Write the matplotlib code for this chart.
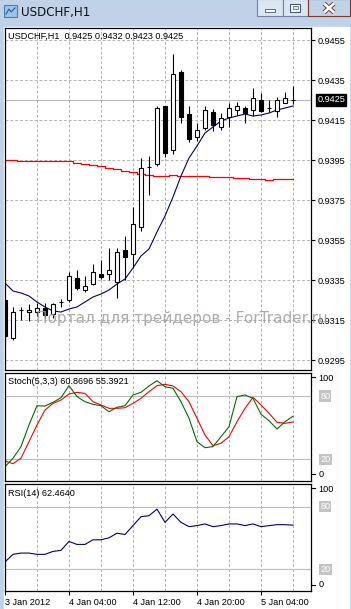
import matplotlib.pyplot as plt
import numpy as np
from matplotlib.patches import Rectangle
from matplotlib.colors import LinearSegmentedColormap
from matplotlib.transforms import blended_transform_factory

W, H = 351, 609

# H1 candles, 3 Jan 2012 20:00 .. 5 Jan 2012 08:00
opens = [0.9325, 0.9306, 0.9320, 0.9319, 0.9319, 0.9321, 0.9318, 0.93242, 0.9325, 0.9336,
         0.9330, 0.9333, 0.9338, 0.9338, 0.9334, 0.9350, 0.9348, 0.93615, 0.93915, 0.9393,
         0.9422, 0.9400, 0.9439, 0.9418, 0.94065, 0.9411, 0.9419, 0.94115, 0.94165, 0.9420,
         0.9421, 0.9420, 0.9425, 0.9421, 0.94195, 0.94235, 0.9425]
highs = [0.9326, 0.93215, 0.93215, 0.9323, 0.93235, 0.93235, 0.93235, 0.93255, 0.93392, 0.9340,
         0.9337, 0.9343, 0.9345, 0.9351, 0.9351, 0.9357, 0.93715, 0.9396, 0.9397, 0.9422,
         0.9422, 0.9448, 0.9440, 0.9422, 0.94135, 0.9422, 0.94205, 0.94185, 0.94235, 0.9424,
         0.9422, 0.9431, 0.94285, 0.9425, 0.94265, 0.9429, 0.9432]
lows = [0.93025, 0.9305, 0.9315, 0.93145, 0.9317, 0.9316, 0.9316, 0.93215, 0.93241, 0.9330,
        0.9329, 0.93325, 0.93355, 0.9335, 0.9326, 0.9335, 0.9341, 0.93595, 0.93775, 0.9392,
        0.93965, 0.9398, 0.94135, 0.9404, 0.94045, 0.9410, 0.94095, 0.9410, 0.94115, 0.94175,
        0.94135, 0.9417, 0.9419, 0.9419, 0.94165, 0.94235, 0.9423]
closes = [0.9307, 0.9319, 0.9320, 0.9320, 0.9321, 0.93175, 0.9323, 0.93242, 0.9337, 0.9331,
          0.9332, 0.9339, 0.93365, 0.9340, 0.9349, 0.93465, 0.9363, 0.9391, 0.93915, 0.9421,
          0.93985, 0.9438, 0.94165, 0.94055, 0.9410, 0.9420, 0.94125, 0.9416, 0.9421, 0.9422,
          0.94185, 0.9426, 0.94195, 0.9421, 0.9425, 0.9426, 0.9425]

ma_fast = [0.93335, 0.93295, 0.93285, 0.9327, 0.9324, 0.93215, 0.93195, 0.9319, 0.93205, 0.93215,
           0.9324, 0.93265, 0.9328, 0.9330, 0.9333, 0.93355, 0.9341, 0.9347, 0.93505, 0.9359,
           0.9367, 0.93765, 0.9387, 0.9396, 0.9402, 0.94085, 0.94115, 0.94145, 0.9416, 0.9417,
           0.9418, 0.9417, 0.94175, 0.94185, 0.9420, 0.9421, 0.9422]
ma_slow = [0.9395, 0.93948, 0.93945, 0.93945, 0.93945, 0.93945, 0.93945, 0.93945, 0.93943, 0.93935,
           0.9393, 0.93925, 0.93918, 0.9391, 0.93903, 0.93895, 0.93888, 0.9388, 0.93873, 0.9387,
           0.9387, 0.93873, 0.9387, 0.9387, 0.9387, 0.93868, 0.93865, 0.93865, 0.93863, 0.9386,
           0.93858, 0.93855, 0.93853, 0.9385, 0.93853, 0.93853, 0.93853]

stoch_main = [13.0, 20.9, 32.0, 52.5, 70.8, 70.5, 74.0, 78.4, 89.8, 79.4,
              74.6, 72.1, 70.8, 65.1, 69.3, 70.8, 81.0, 83.5, 89.5, 94.5,
              88.8, 87.3, 74.6, 58.9, 36.7, 31.0, 32.0, 41.4, 50.9, 79.4,
              81.0, 77.8, 62.7, 56.6, 48.7, 55.6, 60.87]
stoch_signal = [18.4, 15.8, 21.0, 36.7, 52.5, 66.7, 73.0, 76.2, 81.9, 83.5,
                82.5, 74.6, 71.5, 68.3, 68.3, 68.9, 73.0, 77.8, 84.1, 89.8,
                91.1, 89.5, 84.1, 74.6, 58.9, 43.0, 32.9, 35.2, 41.4, 55.6,
                68.3, 78.8, 71.5, 63.6, 55.1, 54.1, 55.39]
rsi = [27.2, 34.5, 35.7, 35.7, 34.5, 34.5, 37.3, 38.3, 46.8, 44.0,
       44.0, 48.4, 48.4, 50.3, 54.7, 53.5, 62.0, 70.5, 71.5, 77.8,
       65.1, 73.1, 65.1, 61.0, 62.0, 63.6, 61.0, 62.0, 63.6, 63.6,
       62.0, 63.6, 61.0, 62.0, 62.9, 62.9, 62.46]

price_levels = [0.9295, 0.9315, 0.9335, 0.9355, 0.9375, 0.9395, 0.9415, 0.9435, 0.9455]
time_pos = [0, 8, 16, 24, 32]
time_labels = ['3 Jan 2012', '4 Jan 04:00', '4 Jan 12:00', '4 Jan 20:00', '5 Jan 04:00']
grid_pos = list(range(4, 37, 4))
last_price = 0.9425

plt.rcParams['font.family'] = ['Liberation Sans', 'DejaVu Sans']
FS = 6.6
GRID = '#b4b4b4'

fig = plt.figure(figsize=(W / 100, H / 100), dpi=100)


def px_axes(x0, y0, x1, y1):
    return fig.add_axes([x0 / W, 1 - y1 / H, (x1 - x0) / W, (y1 - y0) / H])


def ftext(x, y, s, **kw):
    return fig.text(x / W, 1 - y / H, s, **kw)


# window chrome
bg = fig.add_axes([0, 0, 1, 1])
bg.add_patch(Rectangle((0, 0), W, H, color='#bfd2e8'))
cm = LinearSegmentedColormap.from_list('title', ['#dce9f7', '#c3d7ee'])
bg.imshow(np.linspace(0, 1, 30).reshape(-1, 1), extent=(0, W, 27, 0), cmap=cm, aspect='auto')
bg.add_patch(Rectangle((4, 27), W - 6, H - 27, color='white'))
# icon
bg.add_patch(Rectangle((4, 5), 13, 12, facecolor='#9cc3e8', edgecolor='#4c7fb5', lw=0.8))
bg.plot([6, 9, 11, 15], [14, 9, 12, 8], color='#2d5c96', lw=0.8)
# buttons
bg.add_patch(Rectangle((257, -1), 26, 17, facecolor='#dbe6f3', edgecolor='#6f84a3', lw=0.8))
bg.add_patch(Rectangle((265, 9), 10, 2.5, facecolor='white', edgecolor='#4a5a70', lw=0.6))
bg.add_patch(Rectangle((283, -1), 25, 17, facecolor='#dbe6f3', edgecolor='#6f84a3', lw=0.8))
bg.add_patch(Rectangle((290, 3.5), 10, 8, facecolor='white', edgecolor='#4a5a70', lw=0.8))
bg.add_patch(Rectangle((292.5, 6), 5, 3, facecolor='#dbe6f3', edgecolor='#4a5a70', lw=0.5))
cm_red = LinearSegmentedColormap.from_list('close', ['#e3a493', '#c24533'])
bg.imshow(np.linspace(0, 1, 20).reshape(-1, 1), extent=(308, 350, 16, -1), cmap=cm_red, aspect='auto')
bg.add_patch(Rectangle((308, -1), 42, 17, facecolor='none', edgecolor='#7a3a30', lw=0.8))
bg.plot([324, 334], [3.5, 12.5], color='#5a2a22', lw=3.2, solid_capstyle='butt')
bg.plot([324, 334], [12.5, 3.5], color='#5a2a22', lw=3.2, solid_capstyle='butt')
bg.plot([324, 334], [3.5, 12.5], color='white', lw=2.0, solid_capstyle='butt')
bg.plot([324, 334], [12.5, 3.5], color='white', lw=2.0, solid_capstyle='butt')
bg.set_xlim(0, W)
bg.set_ylim(H, 0)
bg.axis('off')

ftext(21, 12.5, 'USDCHF,H1', fontsize=8.6, va='center', family=['DejaVu Sans'], color='#111111')

idx = np.arange(len(opens))
XL = (-0.06, 38.25)

# main price panel
ax = px_axes(4.5, 28, 311, 370)
for p in price_levels:
    ax.axhline(p, color=GRID, lw=0.7, ls=(0, (3, 2)), zorder=0)
for g in grid_pos:
    ax.axvline(g, color=GRID, lw=0.7, ls=(0, (3, 2)), zorder=0)
ax.axhline(last_price, color='#b8b8b8', lw=0.8, zorder=0.5)
ax.plot(idx, ma_slow, color='red', lw=0.9, drawstyle='steps-mid', zorder=1)
ax.plot(idx, ma_fast, color='#000080', lw=0.8, zorder=1)
ax.vlines(idx, lows, highs, color='black', lw=0.8, zorder=2)
o = np.array(opens)
c = np.array(closes)
body_col = ['black' if cc < oo else 'white' for oo, cc in zip(o, c)]
ax.bar(idx, c - o, bottom=o, width=0.58, color=body_col, edgecolor='black', lw=0.8, zorder=3)
ax.set_xlim(*XL)
ax.set_ylim(0.929, 0.9461)
ax.yaxis.tick_right()
ax.set_yticks(price_levels)
ax.set_yticklabels(['%.4f' % p for p in price_levels])
ax.tick_params(axis='y', length=3, width=0.8, pad=2, labelsize=FS)
ax.set_xticks([])
for s in ax.spines.values():
    s.set_linewidth(0.9)
tr = blended_transform_factory(ax.transAxes, ax.transData)
ax.text(1.02, last_price, '%.4f' % last_price, transform=tr, fontsize=FS, color='white',
        va='center', ha='left', clip_on=False,
        bbox=dict(boxstyle='square,pad=0.15', facecolor='black', edgecolor='black'))

ftext(8, 36, 'USDCHF,H1  0.9425 0.9432 0.9423 0.9425', fontsize=FS, va='center')


def osc_panel(y0, y1):
    a = px_axes(4.5, y0, 311, y1)
    for g in grid_pos:
        a.axvline(g, color=GRID, lw=0.7, ls=(0, (3, 2)), zorder=0)
    for lv in (80, 20):
        a.axhline(lv, color='#bcbcbc', lw=0.8, zorder=0)
    a.set_xlim(*XL)
    a.set_ylim(-0.6, 102.3)
    a.set_yticks([])
    for s in a.spines.values():
        s.set_linewidth(0.9)
    trb = blended_transform_factory(a.transAxes, a.transData)
    for lv in (80, 20):
        a.text(1.03, lv, str(lv), transform=trb, fontsize=FS, color='white', va='center',
               ha='left', clip_on=False,
               bbox=dict(boxstyle='square,pad=0.12', facecolor='#c4c4c4', edgecolor='none'))
    a.text(1.025, 0.99, '100', transform=a.transAxes, fontsize=FS, va='top', ha='left')
    a.text(1.025, 0.02, '0', transform=a.transAxes, fontsize=FS, va='bottom', ha='left')
    a.plot([1.0, 1.012], [0.96, 0.96], transform=a.transAxes, color='black', lw=0.8, clip_on=False)
    a.plot([1.0, 1.012], [0.06, 0.06], transform=a.transAxes, color='black', lw=0.8, clip_on=False)
    return a


ax2 = osc_panel(372.5, 481)
ax2.plot(idx, stoch_signal, color='red', lw=0.8)
ax2.plot(idx, stoch_main, color='#007000', lw=0.8)
ax2.set_xticks([])
ftext(8, 382, 'Stoch(5,3,3) 60.8696 55.3921', fontsize=FS, va='center')

ax3 = osc_panel(483.5, 591)
ax3.plot(idx, rsi, color='#000080', lw=0.8)
ax3.set_xticks(time_pos)
ax3.set_xticklabels(time_labels)
for lab in ax3.get_xticklabels():
    lab.set_horizontalalignment('left')
ax3.tick_params(axis='x', length=3, width=0.8, pad=2, labelsize=FS)
ftext(8, 494, 'RSI(14) 62.4640', fontsize=FS, va='center')

# watermark
ftext(36, 318, 'Портал для трейдеров - ForTrader.ru', fontsize=11, va='center',
      family=['DejaVu Sans'], color='#a59c9c', alpha=0.85)

fig.savefig('out.png', dpi=100)
